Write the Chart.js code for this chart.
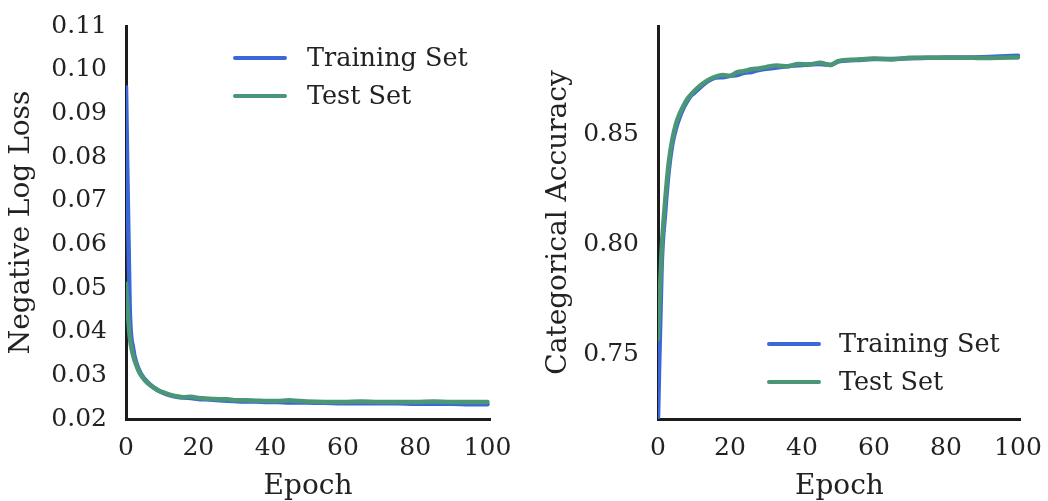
<!DOCTYPE html>
<html lang="en">
<head>
<meta charset="UTF-8">
<title>Training curves</title>
<script src="https://cdn.jsdelivr.net/npm/chart.js"></script>
<style>
    body { margin: 0; background: #fff; }
    .panel { position: absolute; top: 0; width: 524px; height: 501px; }
    .leg-line { position: absolute; width: 54px; height: 4px; border-radius: 2px; }
    .leg-text { position: absolute; font-family: 'DejaVu Serif', serif; font-size: 25.5px; color: #222; line-height: 30px; white-space: nowrap; }
</style>
</head>
<body>
<div class="panel" style="left:0"><canvas id="lossChart" width="524" height="501"></canvas></div>
<div class="panel" style="left:524px"><canvas id="accChart" width="524" height="501"></canvas></div>

<!-- legends -->
<div class="leg-line" style="left:233px; top:56px; background:#3b68d8"></div>
<div class="leg-text" style="left:307px; top:42px">Training Set</div>
<div class="leg-line" style="left:233px; top:94px; background:#4a9677"></div>
<div class="leg-text" style="left:307px; top:80px">Test Set</div>

<div class="leg-line" style="left:767px; top:342px; background:#3b68d8"></div>
<div class="leg-text" style="left:839px; top:328px">Training Set</div>
<div class="leg-line" style="left:767px; top:380px; background:#4a9677"></div>
<div class="leg-text" style="left:839px; top:366px">Test Set</div>

<script>
    const epochs = [0, 1, 2, 3, 4, 5, 6, 7, 8, 9, 10, 12, 14, 16, 18, 20, 22, 24, 26, 28, 30, 33, 36, 39, 42, 45, 48, 50, 55, 60, 65, 70, 75, 80, 85, 90, 95, 100];

    const lossTrain = [0.096, 0.046, 0.036, 0.0325, 0.0305, 0.0293, 0.0284, 0.0276, 0.0270, 0.0265, 0.0261, 0.0255, 0.0251, 0.0249, 0.0248, 0.0246, 0.0245, 0.0244, 0.0243, 0.0242, 0.0241, 0.0240, 0.0240, 0.0239, 0.0239, 0.0238, 0.0238, 0.0238, 0.0237, 0.0236, 0.0236, 0.0236, 0.0236, 0.0235, 0.0235, 0.0235, 0.0234, 0.0234];
    const lossTest = [0.051, 0.039, 0.0345, 0.032, 0.0302, 0.0291, 0.0282, 0.0276, 0.0270, 0.0265, 0.0262, 0.0256, 0.0252, 0.0250, 0.0251, 0.0248, 0.0247, 0.0246, 0.0245, 0.0245, 0.0243, 0.0243, 0.0242, 0.0241, 0.0241, 0.0243, 0.0241, 0.0240, 0.0239, 0.0239, 0.0240, 0.0239, 0.0239, 0.0239, 0.0240, 0.0239, 0.0239, 0.0239];

    const accTrain = [0.7215, 0.790, 0.815, 0.834, 0.846, 0.853, 0.858, 0.862, 0.865, 0.8675, 0.869, 0.872, 0.8745, 0.876, 0.8762, 0.8768, 0.8772, 0.8782, 0.8786, 0.8795, 0.8800, 0.8806, 0.8812, 0.8816, 0.8820, 0.8822, 0.8818, 0.8833, 0.884, 0.8845, 0.8845, 0.8848, 0.885, 0.8852, 0.8852, 0.8853, 0.8856, 0.886];
    const accTest = [0.757, 0.797, 0.820, 0.8375, 0.848, 0.855, 0.8595, 0.863, 0.866, 0.868, 0.8698, 0.8728, 0.875, 0.8765, 0.8772, 0.8768, 0.8785, 0.8790, 0.8798, 0.8802, 0.8808, 0.8815, 0.8812, 0.8822, 0.8820, 0.8828, 0.8818, 0.8835, 0.8842, 0.8847, 0.8843, 0.885, 0.8851, 0.885, 0.8851, 0.8849, 0.885, 0.8852];

    const xTicks = [0, 20, 40, 60, 80, 100];
    const lossTicks = [0.02, 0.03, 0.04, 0.05, 0.06, 0.07, 0.08, 0.09, 0.10, 0.11];
    const accTicks = [0.75, 0.80, 0.85];

    const BLUE = '#3b68d8';
    const GREEN = '#4a9677';
    const TICK_FONT = { family: "'DejaVu Serif', serif", size: 25 };
    const TITLE_FONT = { family: "'DejaVu Serif', serif", size: 28 };

    function pts(ys) {
        return epochs.map((e, i) => ({ x: e, y: ys[i] }));
    }

    function makeChart(id, train, test, yTicks, yMin, yMax, xMax, yTitle, yWidth, padRight, titlePad) {
        const ctx = document.getElementById(id).getContext('2d');
        return new Chart(ctx, {
            type: 'line',
            data: {
                datasets: [
                    // test first so it sits on top of the training line
                    { label: 'Test Set', data: pts(test), borderColor: GREEN, borderWidth: 4.5 },
                    { label: 'Training Set', data: pts(train), borderColor: BLUE, borderWidth: 4.5 }
                ]
            },
            options: {
                responsive: false,
                animation: false,
                devicePixelRatio: 1,
                layout: { padding: { left: 0, right: padRight, top: 22, bottom: 0 } },
                elements: {
                    point: { radius: 0 },
                    line: { cubicInterpolationMode: 'monotone', borderCapStyle: 'round', borderJoinStyle: 'round' }
                },
                plugins: { legend: { display: false }, tooltip: { enabled: false } },
                scales: {
                    x: {
                        type: 'linear',
                        min: 0,
                        max: xMax,
                        grid: { display: false },
                        border: { display: true, color: '#1c1c1c', width: 3 },
                        afterBuildTicks: s => { s.ticks = xTicks.map(v => ({ value: v })); },
                        afterFit: s => { s.height = 82; },
                        ticks: { color: '#222', font: TICK_FONT, padding: 6, maxRotation: 0 },
                        title: { display: true, text: 'Epoch', color: '#222', font: TITLE_FONT, padding: { top: 0, bottom: -3 } }
                    },
                    y: {
                        type: 'linear',
                        min: yMin,
                        max: yMax,
                        grid: { display: false },
                        border: { display: true, color: '#1c1c1c', width: 3 },
                        afterBuildTicks: s => { s.ticks = yTicks.map(v => ({ value: v })); },
                        afterFit: s => { s.width = yWidth; },
                        ticks: { color: '#222', font: TICK_FONT, padding: 11, callback: v => v.toFixed(2) },
                        title: { display: true, text: yTitle, color: '#222', font: TITLE_FONT, padding: { top: titlePad, bottom: 0 } }
                    }
                }
            }
        });
    }

    makeChart('lossChart', lossTrain, lossTest, lossTicks, 0.02, 0.11, 100.7, 'Negative Log Loss', 126, 34, 5);
    makeChart('accChart', accTrain, accTest, accTicks, 0.7207, 0.8995, 100.8, 'Categorical Accuracy', 134, 25, 18);
</script>
</body>
</html>
